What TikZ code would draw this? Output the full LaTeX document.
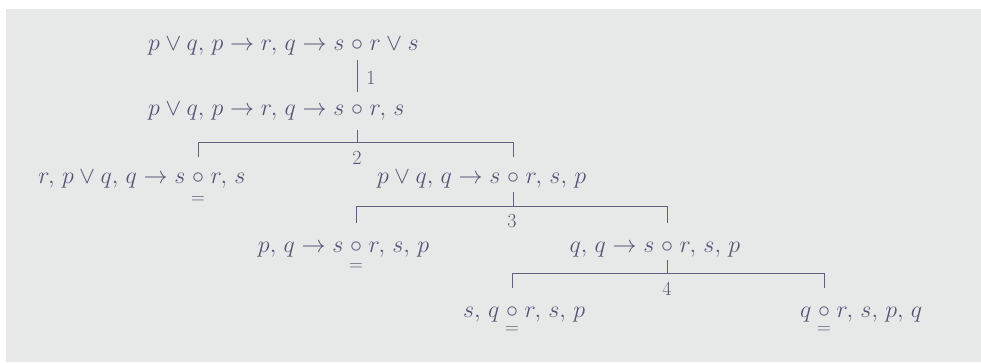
\RequirePackage{fix-cm}
\documentclass[tikz,border=0pt]{standalone}
\usetikzlibrary{calc}
\definecolor{inkc}{RGB}{86,84,118}
\definecolor{rulec}{RGB}{98,96,128}
\definecolor{paperc}{RGB}{231,233,233}
\newcommand\cm{,\mskip 2.5mu}
\newcommand\seqnode[5]{%
  \node[cnode] (#1) at (#2,#3) {$\circ$};
  \node[txt,anchor=base east] (#1L) at (#1.base west) {$#4\;$};
  \node[txt,anchor=base west] (#1R) at (#1.base east) {$\;#5$};}
\begin{document}
\begin{tikzpicture}[x=1pt,y=-1pt,
  txt/.style={inner sep=0pt,outer sep=0pt,text=inkc,font=\fontsize{24}{28}\selectfont},
  cnode/.style={txt,anchor=base},
  eqn/.style={inner sep=0pt,text=inkc,font=\fontsize{19}{22}\selectfont},
  lab/.style={inner sep=0pt,text=inkc,font=\fontsize{20}{24}\selectfont},
  rule/.style={draw=rulec,line width=1pt}]
\useasboundingbox (0,0) rectangle (981,362);
\fill[white] (0,0) rectangle (981,362);
\fill[paperc] (6,9) rectangle (981,362);

% sequents
\seqnode{c1}{357}{50}{p\vee q\cm p\to r\cm q\to s}{r\vee s}
\seqnode{c2}{357}{115}{p\vee q\cm p\to r\cm q\to s}{r\cm s}
\seqnode{c3l}{198}{183}{r\cm p\vee q\cm q\to s}{r\cm s}
\seqnode{c3r}{513}{183}{p\vee q\cm q\to s}{r\cm s\cm p}
\seqnode{c4l}{356}{252}{p\cm q\to s}{r\cm s\cm p}
\seqnode{c4r}{667}{252}{q\cm q\to s}{r\cm s\cm p}
\seqnode{c5l}{512}{317}{s\cm q}{r\cm s\cm p}
\seqnode{c5r}{824}{317}{q}{r\cm s\cm p\cm q}

% closure marks
\node[eqn] (e3l) at ([yshift=-22pt]c3l.center) {$=$};
\node[eqn] (e4l) at ([yshift=-20pt]c4l.center) {$=$};
\node[eqn] (e5l) at ([yshift=-18pt]c5l.center) {$=$};
\node[eqn] (e5r) at ([yshift=-18pt]c5r.center) {$=$};

% helper levels
\coordinate (a1) at (0,60);  \coordinate (b1) at (0,92);
\coordinate (a2) at (0,130); \coordinate (h2) at (0,142); \coordinate (d2) at (0,157);
\coordinate (a3) at (0,192); \coordinate (h3) at (0,206); \coordinate (d3) at (0,223);
\coordinate (a4) at (0,260); \coordinate (h4) at (0,273); \coordinate (d4) at (0,288);

% step 1
\draw[rule] (c1 |- a1) -- (c1 |- b1);
\node[lab] (n1) at (371,78) {1};
% step 2
\draw[rule] (c2 |- a2) -- (c2 |- h2);
\draw[rule] (c3l |- d2) -- (c3l |- h2) -- (c3r |- h2) -- (c3r |- d2);
\node[lab] (n2) at (357,158) {2};
% step 3
\draw[rule] (c3r |- a3) -- (c3r |- h3);
\draw[rule] (c4l |- d3) -- (c4l |- h3) -- (c4r |- h3) -- (c4r |- d3);
\node[lab] (n3) at (512,221) {3};
% step 4
\draw[rule] (c4r |- a4) -- (c4r |- h4);
\draw[rule] (c5l |- d4) -- (c5l |- h4) -- (c5r |- h4) -- (c5r |- d4);
\node[lab] (n4) at (667,289) {4};
\end{tikzpicture}
\end{document}
